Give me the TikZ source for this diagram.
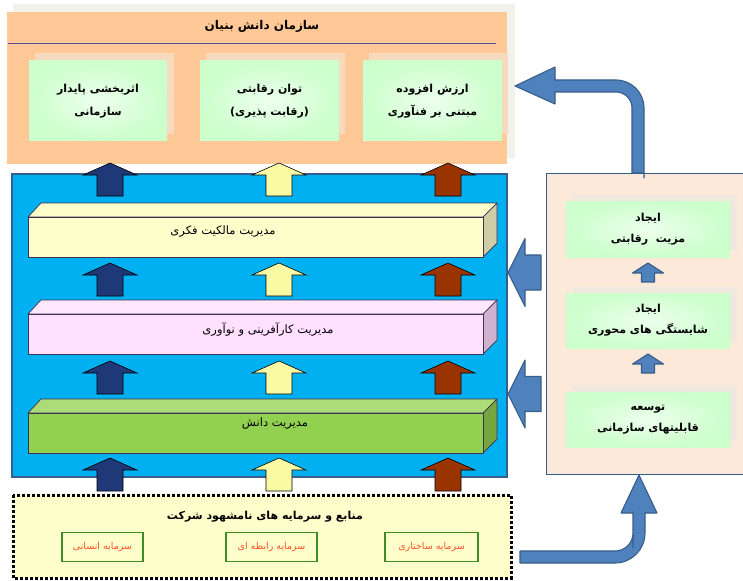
\documentclass[tikz,border=0pt]{standalone}
\usepackage{fontspec}
\newfontfamily\fa[Script=Arabic]{DejaVu Sans}
\TeXXeTstate=1
\definecolor{bggray}{RGB}{242,242,236}
\definecolor{orangep}{RGB}{255,200,150}
\definecolor{shadowp}{RGB}{246,218,190}
\definecolor{gfill}{RGB}{204,255,204}
\definecolor{bluep}{RGB}{0,176,240}
\definecolor{edgeb}{RGB}{56,93,138}
\definecolor{arrb}{RGB}{79,129,189}
\definecolor{navy}{RGB}{31,56,120}
\definecolor{paley}{RGB}{250,250,165}
\definecolor{brownr}{RGB}{153,51,0}
\definecolor{peach}{RGB}{253,233,217}
\definecolor{rshadow}{RGB}{238,232,222}
\definecolor{yfront}{RGB}{255,255,204}
\definecolor{yside}{RGB}{206,206,166}
\definecolor{pfront}{RGB}{255,224,255}
\definecolor{ptop}{RGB}{255,232,255}
\definecolor{pside}{RGB}{208,178,208}
\definecolor{gfront}{RGB}{146,208,80}
\definecolor{gtop}{RGB}{172,220,120}
\definecolor{gside}{RGB}{117,166,64}
\definecolor{barline}{RGB}{63,49,81}
\definecolor{redtxt}{RGB}{255,80,40}
\definecolor{boxgreen}{RGB}{60,140,40}
\definecolor{titleline}{RGB}{80,80,150}
\tikzset{
  greenbox/.style={inner color=gfill!35!white, outer color=gfill, draw=none, align=center,
    font=\fa\bfseries\fontsize{11}{23}\selectfont, inner sep=0pt},
  rgreenbox/.style={greenbox, font=\fa\bfseries\fontsize{11}{21}\selectfont},
  panelline/.style={draw=edgeb, line width=1.4pt},
  bigarr/.style={draw=black, line width=0.6pt},
  bluearr/.style={fill=arrb, draw=edgeb, line width=1.1pt, line join=round},
  barface/.style={draw=barline, line width=0.7pt, line join=round},
  bartext/.style={font=\fa\fontsize{11.5}{14}\selectfont},
  smallbox/.style={draw=boxgreen, line width=1.1pt, fill=yfront, minimum width=81, minimum height=29,
    font=\fa\fontsize{9.5}{11}\selectfont, text=redtxt, inner sep=0pt},
}
\newcommand\ColArrow[3]{% cx, ytop, colour
  \path[bigarr, fill=#3] (#1-13,#2+33) -- (#1-13,#2+12) -- (#1-27,#2+12) -- (#1,#2) -- (#1+27,#2+12)
    -- (#1+13,#2+12) -- (#1+13,#2+33) -- cycle;}
\newcommand\ColRow[1]{\ColArrow{110}{#1}{navy}\ColArrow{279}{#1}{paley}\ColArrow{448}{#1}{brownr}}
\newcommand\SmallUp[1]{% ytop
  \path[bluearr] (641.5,#1+19) -- (641.5,#1+10) -- (632.5,#1+10) -- (648,#1) -- (663.5,#1+10)
    -- (654.5,#1+10) -- (654.5,#1+19) -- cycle;}
\newcommand\LeftArr[1]{% y centre
  \path[bluearr] (541,#1-17.5) -- (525,#1-17.5) -- (525,#1-34) -- (508,#1) -- (525,#1+34)
    -- (525,#1+17.5) -- (541,#1+17.5) -- cycle;}
\newcommand\Bar[5]{% name, ytop-front, front, top, side
  \path[barface, fill=#4] (28,#2) -- (41,#2-14) -- (497,#2-14) -- (483,#2) -- cycle;
  \path[barface, fill=#5] (483,#2) -- (497,#2-14) -- (497,#2+26) -- (483,#2+40) -- cycle;
  \node[barface, fill=#3, minimum width=455, minimum height=40, inner sep=0pt] (#1) at (255.5,#2+20) {};
}
\begin{document}
\begin{tikzpicture}[x=1pt,y=-1pt]
\useasboundingbox (0,0) rectangle (743,580);
% ---------- top panel ----------
\fill[bggray] (13,4) rectangle (515,158);
\node[fill=orangep, minimum width=500, minimum height=152, inner sep=0pt] (top) at (257,88) {};
\node[font=\fa\bfseries\fontsize{12}{14}\selectfont] (title) at (262,26) {\beginR سازمان دانش بنیان\endR};
\draw[titleline, line width=0.9pt] (8,43) -- (496,43);
\fill[shadowp] (35,53) rectangle (174,134);
\fill[shadowp] (206,53) rectangle (345,134);
\fill[shadowp] (369,53) rectangle (508,134);
\node[greenbox, minimum width=138, minimum height=80] (o1) at (98,101)
  {\beginR اثربخشی پایدار\endR\\\beginR سازمانی\endR};
\node[greenbox, minimum width=139, minimum height=80] (o2) at (269.5,101)
  {\beginR توان رقابتی\endR\\\beginR (رقابت پذیری)\endR};
\node[greenbox, minimum width=139, minimum height=80] (o3) at (432.5,101)
  {\beginR ارزش افزوده\endR\\\beginR مبتنی بر فنآوری\endR};
% ---------- middle panel ----------
\node[panelline, fill=bluep, minimum width=495, minimum height=303, inner sep=0pt] (mid) at (259.5,325.5) {};
\Bar{b1}{217}{yfront}{yfront}{yside}
\node[bartext] (t1) at (223,232) {\beginR مدیریت مالکیت فکری\endR};
\Bar{b2}{314}{pfront}{ptop}{pside}
\node[bartext] (t2) at (268,330) {\beginR مدیریت کارآفرینی و نوآوری\endR};
\Bar{b3}{413}{gfront}{gtop}{gside}
\node[bartext] (t3) at (275,424) {\beginR مدیریت دانش\endR};
\ColRow{163}
\ColRow{263}
\ColRow{361}
\ColRow{458}
% ---------- right panel ----------
\node[panelline, fill=peach, minimum width=205, minimum height=301, inner sep=0pt, anchor=north west] (right) at (546,173) {};
\fill[rshadow] (573,195) rectangle (737,251);
\fill[rshadow] (573,287) rectangle (737,342);
\fill[rshadow] (573,386) rectangle (737,441);
\node[rgreenbox, minimum width=164, minimum height=56] (r1) at (648,229)
  {\beginR ایجاد\endR\\\beginR مزیت\ \ رقابتی\endR};
\node[rgreenbox, minimum width=164, minimum height=55] (r2) at (648,320.5)
  {\beginR ایجاد\endR\\\beginR شایستگی های محوری\endR};
\node[rgreenbox, minimum width=164, minimum height=55] (r3) at (648,419.5)
  {\beginR توسعه\endR\\\beginR قابلیتهای سازمانی\endR};
\SmallUp{263}
\SmallUp{354}
\LeftArr{272.5}
\LeftArr{394}
% curved arrow to top panel
\path[bluearr] (632,173) -- (632,150) [rounded corners=16pt] -- (632,92) -- (590,92) [sharp corners]
  -- (555,92) -- (555,104) -- (515,86) -- (555,67) -- (555,80) -- (600,80) [rounded corners=28pt]
  -- (644,80) -- (644,150) [sharp corners] -- (644,173) -- cycle;
% ---------- bottom box ----------
\node[fill=yfront, minimum width=498, minimum height=83, inner sep=0pt] (res) at (262,536.5) {};
\draw[line width=3pt, dash pattern=on 2.6pt off 2.4pt] (13,495) rectangle (511,578);
\node[font=\fa\bfseries\fontsize{11}{13}\selectfont] (rt) at (265,517) {\beginR منابع و سرمایه های نامشهود شرکت\endR};
\node[smallbox] (s1) at (102.5,547) {\beginR سرمایه انسانی\endR};
\node[smallbox, minimum width=91] (s2) at (271.5,547) {\beginR سرمایه رابطه ای\endR};
\node[smallbox, minimum width=93] (s3) at (431.5,547) {\beginR سرمایه ساختاری\endR};
% curved arrow to right panel
\path[bluearr] (520,551) -- (580,551) [rounded corners=18pt] -- (633,551) -- (633,530) [sharp corners]
  -- (633,513) -- (621,513) -- (639,475) -- (657,513) -- (645,513) -- (645,530) [rounded corners=30pt]
  -- (645,563) -- (580,563) [sharp corners] -- (520,563) -- cycle;
\end{tikzpicture}
\end{document}
